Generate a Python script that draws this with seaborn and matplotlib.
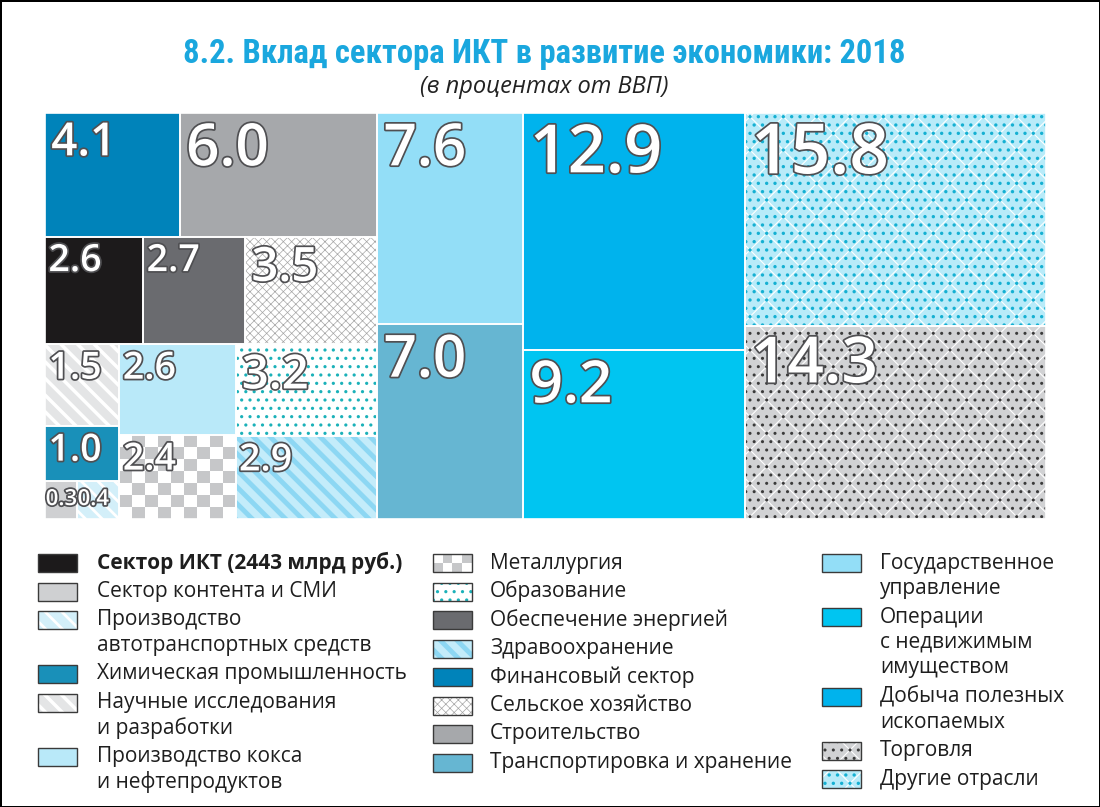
import numpy as np
import matplotlib
matplotlib.use("Agg")
import matplotlib.pyplot as plt
import matplotlib.patheffects as pe
from matplotlib.patches import Rectangle
from matplotlib.colors import ListedColormap
import seaborn as sns

# --- data: ICT contribution, % of GDP, 2018 ---
keys = ["ict", "media", "auto", "chem", "science", "coke", "metal", "edu",
        "energy", "health", "fin", "agri", "constr", "transport", "gov",
        "realty", "mining", "trade", "other"]
labels = ["Сектор ИКТ (2443 млрд руб.)", "Сектор контента и СМИ",
          "Производство\nавтотранспортных средств", "Химическая промышленность",
          "Научные исследования\nи разработки", "Производство кокса\nи нефтепродуктов",
          "Металлургия", "Образование", "Обеспечение энергией", "Здравоохранение",
          "Финансовый сектор", "Сельское хозяйство", "Строительство",
          "Транспортировка и хранение", "Государственное\nуправление",
          "Операции\nс недвижимым\nимуществом", "Добыча полезных\nископаемых",
          "Торговля", "Другие отрасли"]
share = [2.6, 0.3, 0.4, 1.0, 1.5, 2.6, 2.4, 3.2, 2.7, 2.9, 4.1, 3.5, 6.0,
         7.0, 7.6, 9.2, 12.9, 14.3, 15.8]

val = dict(zip(keys, share))
lab = dict(zip(keys, labels))

# how the tiles are nested (h = side by side, v = stacked)
layout = ("h", [
    ("v", [("h", ["fin", "constr"]),
           ("h", ["ict", "energy", "agri"]),
           ("h", [("v", ["science", "chem", ("h", ["media", "auto"])]),
                  ("v", ["coke", "metal"]),
                  ("v", ["edu", "health"])])]),
    ("v", ["gov", "transport"]),
    ("v", ["mining", "realty"]),
    ("v", ["other", "trade"]),
])

# fill, hatch, hatch colour, hatch width
style = {
    "ict": ("#1c1a1b", None, None, 0),
    "media": ("#cfd0d2", None, None, 0),
    "auto": ("#d3eff9", "\\\\", "white", 2.0),
    "chem": ("#1990b9", None, None, 0),
    "science": ("#e4e5e6", "\\\\", "white", 2.5),
    "coke": ("#b9e9f9", None, None, 0),
    "metal": ("#ffffff", "checker", "#c6c7c9", 0),
    "edu": ("#ffffff", "..", "#1bb1b9", 1.1),
    "energy": ("#6a6b6f", None, None, 0),
    "health": ("#c4ecfa", "\\\\", "#8dd7f3", 3.5),
    "fin": ("#0083ba", None, None, 0),
    "agri": ("#ffffff", "xxxx", "#a5a5a5", 0.5),
    "constr": ("#a6a8ab", None, None, 0),
    "transport": ("#66b6d2", None, None, 0),
    "gov": ("#93def7", None, None, 0),
    "realty": ("#00c5f1", None, None, 0),
    "mining": ("#00b3ed", None, None, 0),
    "trade": ("#d1d2d4", "..", "#3a3a3a", 1.0),
    "other": ("#b8ebf9", "..", "#15b0d2", 1.2),
}
# faint white weave over the two dotted tiles
weave = {"trade": ("x", "white", 0.8), "other": ("x", "white", 0.8)}
num_size = {"other": 50, "trade": 46, "mining": 48, "realty": 42, "gov": 42,
            "transport": 42, "constr": 42, "fin": 33, "agri": 34, "edu": 34,
            "media": 16, "auto": 16}


def total(node):
    if isinstance(node, str):
        return val[node]
    return sum(total(c) for c in node[1])


def place(node, x, y, w, h, out):
    if isinstance(node, str):
        out[node] = (x, y, w, h)
        return
    kind, kids = node
    T = total(node)
    pos = x if kind == "h" else y
    for c in kids:
        f = total(c) / T
        if kind == "h":
            place(c, pos, y, w * f, h, out)
            pos += w * f
        else:
            place(c, x, pos, w, h * f, out)
            pos += h * f


def hatch_patch(ax, x, y, w, h, hatch, color, lw, z):
    p = Rectangle((x, y), w, h, fc="none", ec=color, lw=0, hatch=hatch, zorder=z)
    if hasattr(p, "set_hatch_linewidth"):
        p.set_hatch_linewidth(lw)
    ax.add_patch(p)


def fill(ax, x, y, w, h, key, cell, edge=None):
    fc, hatch, hc, hlw = style[key]
    ax.add_patch(Rectangle((x, y), w, h, fc=fc, ec="none", lw=0, zorder=1))
    if key in weave:
        hatch_patch(ax, x, y, w, h, *weave[key], z=1.5)
    if hatch == "checker":
        nx = max(2, int(round(w / cell[0])))
        ny = max(2, int(round(h / cell[1])))
        board = (np.indices((ny, nx)).sum(axis=0) % 2)
        ax.imshow(board, cmap=ListedColormap(["white", hc]), extent=(x, x + w, y + h, y),
                  interpolation="nearest", aspect="auto", zorder=2)
    elif hatch:
        hatch_patch(ax, x, y, w, h, hatch, hc, hlw, z=2)
    if edge:
        ax.add_patch(Rectangle((x, y), w, h, fc="none", ec=edge[0], lw=edge[1], zorder=3))


sns.set_style("white")
plt.rcParams["font.family"] = ["Open Sans", "Noto Sans", "DejaVu Sans"]
plt.rcParams["hatch.linewidth"] = 1.2

fig = plt.figure(figsize=(11, 8.07), dpi=100)
fig.patch.set_edgecolor("black")
fig.patch.set_linewidth(2)

# treemap
ax = fig.add_axes([45 / 1100, 1 - 519 / 807, 1001 / 1100, 406 / 807])
rects = {}
place(layout, 0, 0, 100, 100, rects)
for k, (x, y, w, h) in rects.items():
    fill(ax, x, y, w, h, k, cell=(1.25, 3.1), edge=("white", 1.2))
    fs = num_size.get(k, 27)
    off = (4.5, -6) if fs > 30 else (2.5, -4)
    if k in ("media", "auto"):
        off = (0.5, -6)
    ax.annotate(f"{val[k]:.1f}", xy=(x, y), xytext=off, textcoords="offset points",
                ha="left", va="top", fontsize=fs, color="white", fontweight="semibold",
                zorder=5,
                path_effects=[pe.withStroke(linewidth=2.5, foreground="#4f4f52")])
ax.set_xlim(0, 100)
ax.set_ylim(100, 0)
ax.axis("off")

# title
fig.text(544 / 1100, 1 - 54 / 807, "8.2. Вклад сектора ИКТ в развитие экономики: 2018",
         ha="center", va="center", fontsize=23.5, fontweight="bold", color="#1aa7de",
         family=["Roboto Condensed", "Open Sans", "Noto Sans", "DejaVu Sans"])
fig.text(544 / 1100, 1 - 87 / 807, "(в процентах от ВВП)", ha="center", va="center",
         fontsize=17, style="italic", color="#222222")

# legend in pixel coordinates
lax = fig.add_axes([0, 0, 1, 1], zorder=-1)
lax.axis("off")
columns = [["ict", "media", "auto", "chem", "science", "coke"],
           ["metal", "edu", "energy", "health", "fin", "agri", "constr", "transport"],
           ["gov", "realty", "mining", "trade", "other"]]
patch_x = [38, 433, 822]
text_x = [97, 490, 880]
line_h, gap = 25.5, 3
for ci, col in enumerate(columns):
    yc = 563
    for k in col:
        fill(lax, patch_x[ci], yc - 9, 39, 18, k, cell=(9.8, 9), edge=("#3a3a3a", 1.0))
        lines = lab[k].split("\n")
        for li, t in enumerate(lines):
            lax.text(text_x[ci], yc + li * line_h, t, ha="left", va="center",
                     fontsize=15, color="#1e1e1e",
                     fontweight="bold" if k == "ict" else "normal")
        yc += len(lines) * line_h + gap
lax.set_xlim(0, 1100)
lax.set_ylim(807, 0)

fig.savefig("out.png", dpi=100)
